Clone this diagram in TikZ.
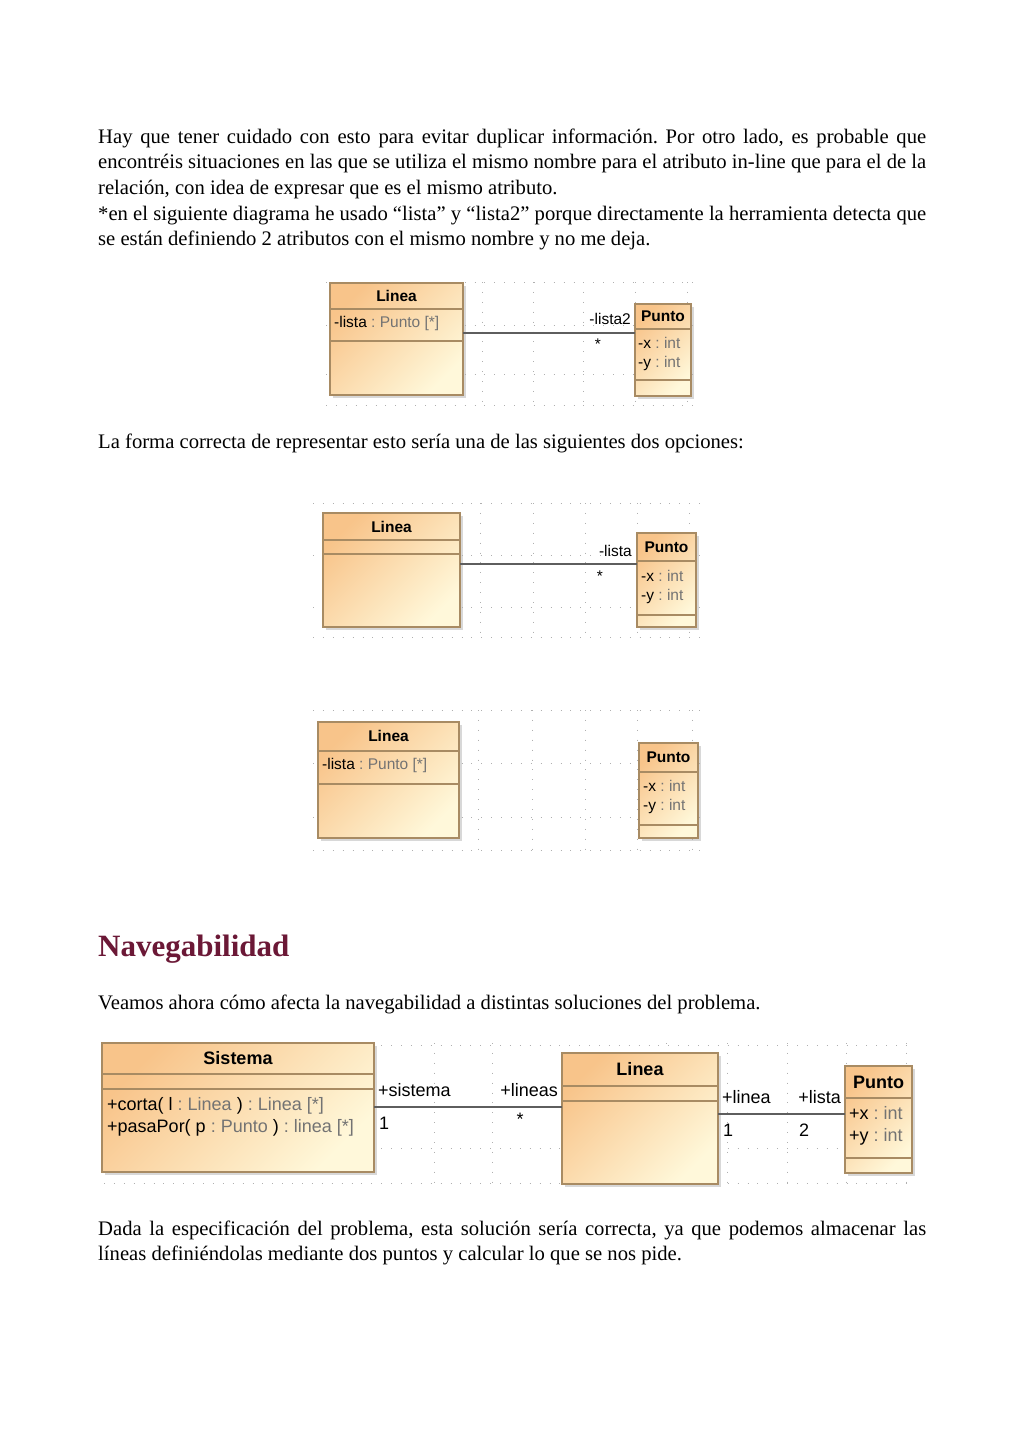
\documentclass[tikz,border=0pt]{standalone}
\usepackage{fontspec}
\setmainfont{Liberation Serif}
\setsansfont{Liberation Sans}
\usepackage{tikz}
\usetikzlibrary{shadows}
\definecolor{headMaroon}{HTML}{6B1836}
\definecolor{umlBorder}{HTML}{A88B63}
\definecolor{umlTop}{HTML}{F8C48A}
\definecolor{umlBottom}{HTML}{FFF8DA}
\definecolor{typeGray}{HTML}{737373}
\definecolor{assocGray}{HTML}{5E5E5E}
\definecolor{gridGray}{HTML}{B0B0B0}
\tikzset{
  umlclass/.style={draw=umlBorder, line width=1.1pt, top color=umlTop, bottom color=umlBottom,
                   shading angle=45, drop shadow={shadow xshift=2.5pt, shadow yshift=-2.5pt, fill=black!30},
                   anchor=north west, outer sep=0pt, inner sep=0pt},
  umlsep/.style={umlBorder, line width=1.1pt},
  assoc/.style={assocGray, line width=1.2pt},
  griddot/.style={gridGray, line width=0.9pt, dash pattern=on 0.9pt off 9pt},
  smallname/.style={font=\sffamily\bfseries\fontsize{15.5}{18}\selectfont, inner sep=0pt},
  smalltext/.style={font=\sffamily\fontsize{15.5}{18}\selectfont, inner sep=0pt, anchor=west},
  bigname/.style={font=\sffamily\bfseries\fontsize{18}{21}\selectfont, inner sep=0pt},
  bigtext/.style={font=\sffamily\fontsize{18}{21}\selectfont, inner sep=0pt, anchor=west},
  bodytext/.style={font=\fontsize{20.65}{25.7}\selectfont, inner sep=0pt, anchor=north west,
                   text width=828pt, align=justify},
  bodyline/.style={font=\fontsize{20.65}{25.7}\selectfont, inner sep=0pt, anchor=base west}
}
\newcommand{\ty}[1]{\textcolor{typeGray}{#1}}
\hyphenpenalty=10000
\frenchspacing

\begin{document}
\begin{tikzpicture}[x=1pt, y=-1pt]
  \useasboundingbox[fill=white] (0,0) rectangle (1024,1449);

  % texto de arriba
  \node[bodytext] (intro) at (98,125) {\strut Hay que tener cuidado con esto para evitar duplicar información. Por otro lado, es probable que encontréis situaciones en las que se utiliza el mismo nombre para el atributo in-line que para el de la relación, con idea de expresar que es el mismo atributo.\par
  *en el siguiente diagrama he usado “lista” y “lista2” porque directamente la herramienta detecta que se están definiendo 2 atributos con el mismo nombre y no me deja.};

  % diagrama 1
  \foreach \gx in {482,533,583,635,687}
    \draw[griddot] (\gx,282) -- (\gx,406);
  \foreach \gy in {282,325,374,405}
    \draw[griddot] (326,\gy) -- (700,\gy);
  \node[umlclass, minimum width=133, minimum height=112] (lineaA) at (330,283) {};
  \draw[umlsep] ([yshift=-26pt]lineaA.north west) -- ([yshift=-26pt]lineaA.north east);
  \draw[umlsep] ([yshift=-58pt]lineaA.north west) -- ([yshift=-58pt]lineaA.north east);
  \node[smallname] at ([yshift=-13pt]lineaA.north) {Linea};
  \node[smalltext] at ([xshift=4pt,yshift=-40pt]lineaA.north west) {-lista \ty{: Punto [*]}};
  \node[umlclass, minimum width=56, minimum height=92] (puntoA) at (635,304) {};
  \draw[umlsep] ([yshift=-25pt]puntoA.north west) -- ([yshift=-25pt]puntoA.north east);
  \draw[umlsep] ([yshift=-76pt]puntoA.north west) -- ([yshift=-76pt]puntoA.north east);
  \node[smallname] at ([yshift=-12pt]puntoA.north) {Punto};
  \node[smalltext] at ([xshift=3pt,yshift=-39pt]puntoA.north west) {-x \ty{: int}};
  \node[smalltext] at ([xshift=3pt,yshift=-59pt]puntoA.north west) {-y \ty{: int}};
  \draw[assoc] (lineaA.east |- 0,333) -- (puntoA.west |- 0,333);
  \node[smalltext, anchor=east] (rolA) at (631,319) {-lista2};
  \node[smalltext, anchor=center] (multA) at (598,344) {*};

  \node[bodyline] (forma) at (98,448) {La forma correcta de representar esto sería una de las siguientes dos opciones:};

  % diagrama 2
  \foreach \gx in {480,533,585,637,689}
    \draw[griddot] (\gx,503) -- (\gx,638);
  \foreach \gy in {503,555,607,637}
    \draw[griddot] (313,\gy) -- (702,\gy);
  \node[umlclass, minimum width=137, minimum height=114] (lineaB) at (323,513) {};
  \draw[umlsep] ([yshift=-27pt]lineaB.north west) -- ([yshift=-27pt]lineaB.north east);
  \draw[umlsep] ([yshift=-41pt]lineaB.north west) -- ([yshift=-41pt]lineaB.north east);
  \node[smallname] at ([yshift=-14pt]lineaB.north) {Linea};
  \node[umlclass, minimum width=59, minimum height=94] (puntoB) at (637,533) {};
  \draw[umlsep] ([yshift=-28pt]puntoB.north west) -- ([yshift=-28pt]puntoB.north east);
  \draw[umlsep] ([yshift=-82pt]puntoB.north west) -- ([yshift=-82pt]puntoB.north east);
  \node[smallname] at ([yshift=-14pt]puntoB.north) {Punto};
  \node[smalltext] at ([xshift=4pt,yshift=-43pt]puntoB.north west) {-x \ty{: int}};
  \node[smalltext] at ([xshift=4pt,yshift=-63pt]puntoB.north west) {-y \ty{: int}};
  \draw[assoc] (lineaB.east |- 0,564) -- (puntoB.west |- 0,564);
  \node[smalltext, anchor=east] (rolB) at (632,551) {-lista};
  \node[smalltext, anchor=center] (multB) at (600,576) {*};

  % diagrama 3
  \foreach \gx in {478,532,585,637,692}
    \draw[griddot] (\gx,710) -- (\gx,850);
  \foreach \gy in {710,763,817,850}
    \draw[griddot] (313,\gy) -- (702,\gy);
  \node[umlclass, minimum width=141, minimum height=116] (lineaC) at (318,722) {};
  \draw[umlsep] ([yshift=-29pt]lineaC.north west) -- ([yshift=-29pt]lineaC.north east);
  \draw[umlsep] ([yshift=-62pt]lineaC.north west) -- ([yshift=-62pt]lineaC.north east);
  \node[smallname] at ([yshift=-14pt]lineaC.north) {Linea};
  \node[smalltext] at ([xshift=4pt,yshift=-43pt]lineaC.north west) {-lista \ty{: Punto [*]}};
  \node[umlclass, minimum width=59, minimum height=95] (puntoC) at (639,743) {};
  \draw[umlsep] ([yshift=-29pt]puntoC.north west) -- ([yshift=-29pt]puntoC.north east);
  \draw[umlsep] ([yshift=-82pt]puntoC.north west) -- ([yshift=-82pt]puntoC.north east);
  \node[smallname] at ([yshift=-14pt]puntoC.north) {Punto};
  \node[smalltext] at ([xshift=4pt,yshift=-43pt]puntoC.north west) {-x \ty{: int}};
  \node[smalltext] at ([xshift=4pt,yshift=-63pt]puntoC.north west) {-y \ty{: int}};

  % seccion
  \node[font=\bfseries\fontsize{31}{36}\selectfont, text=headMaroon, inner sep=0pt, anchor=base west]
    (navTitle) at (98,956) {Navegabilidad};
  \node[bodyline] (veamos) at (98,1009) {Veamos ahora cómo afecta la navegabilidad a distintas soluciones del problema.};

  % diagrama 4
  \foreach \gx in {434,492,666,727,787,846,906}
    \draw[griddot] (\gx,1043) -- (\gx,1185);
  \foreach \gy in {1045,1148,1183}
    \draw[griddot] (104,\gy) -- (914,\gy);
  \node[umlclass, minimum width=272, minimum height=129] (sistema) at (102,1043) {};
  \draw[umlsep] ([yshift=-31pt]sistema.north west) -- ([yshift=-31pt]sistema.north east);
  \draw[umlsep] ([yshift=-46pt]sistema.north west) -- ([yshift=-46pt]sistema.north east);
  \node[bigname] at ([yshift=-15pt]sistema.north) {Sistema};
  \node[bigtext] at ([xshift=5pt,yshift=-63pt]sistema.north west) {+corta( l \ty{: Linea} ) \ty{: Linea [*]}};
  \node[bigtext] at ([xshift=5pt,yshift=-85pt]sistema.north west) {+pasaPor( p \ty{: Punto} ) \ty{: linea [*]}};
  \node[umlclass, minimum width=156, minimum height=131] (lineaD) at (562,1053) {};
  \draw[umlsep] ([yshift=-33pt]lineaD.north west) -- ([yshift=-33pt]lineaD.north east);
  \draw[umlsep] ([yshift=-48pt]lineaD.north west) -- ([yshift=-48pt]lineaD.north east);
  \node[bigname] at ([yshift=-16pt]lineaD.north) {Linea};
  \node[umlclass, minimum width=67, minimum height=107] (puntoD) at (845,1066) {};
  \draw[umlsep] ([yshift=-32pt]puntoD.north west) -- ([yshift=-32pt]puntoD.north east);
  \draw[umlsep] ([yshift=-92pt]puntoD.north west) -- ([yshift=-92pt]puntoD.north east);
  \node[bigname] at ([yshift=-16pt]puntoD.north) {Punto};
  \node[bigtext] at ([xshift=4pt,yshift=-47pt]puntoD.north west) {+x \ty{: int}};
  \node[bigtext] at ([xshift=4pt,yshift=-71pt]puntoD.north west) {+y \ty{: int}};
  \draw[assoc] (sistema.east |- 0,1107) -- (lineaD.west |- 0,1107);
  \node[bigtext] (rolSis) at (378,1090) {+sistema};
  \node[bigtext] (multSis) at (379,1123) {1};
  \node[bigtext, anchor=east] (rolLin) at (558,1090) {+lineas};
  \node[bigtext, anchor=center] (multLin) at (520,1119) {*};
  \draw[assoc] (lineaD.east |- 0,1114) -- (puntoD.west |- 0,1114);
  \node[bigtext] (rolLinea) at (722,1097) {+linea};
  \node[bigtext] (multLinea) at (723,1130) {1};
  \node[bigtext, anchor=east] (rolLista) at (841,1097) {+lista};
  \node[bigtext, anchor=center] (multLista) at (804,1130) {2};

  \node[bodytext] (dada) at (98,1217) {\strut Dada la especificación del problema, esta solución sería correcta, ya que podemos almacenar las\linebreak líneas definiéndolas mediante dos puntos y calcular lo que se nos pide.};
\end{tikzpicture}
\end{document}
